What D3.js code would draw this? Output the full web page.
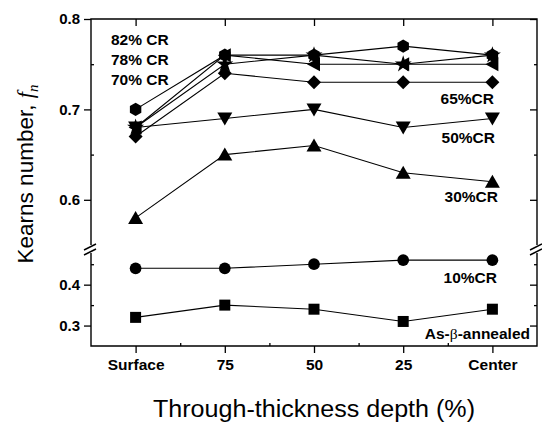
<!DOCTYPE html>
<html>
<head>
<meta charset="utf-8">
<script src="https://cdn.jsdelivr.net/npm/d3@7"></script>
<style>
  body { margin: 0; background: #fff; }
  text { font-family: "Liberation Sans", Arial, Helvetica, sans-serif; }
</style>
</head>
<body>
<svg id="chart" width="542" height="424"></svg>
<script>
// Kearns number f_n versus through-thickness depth for each cold-rolling reduction
const depths = ["Surface", "75", "50", "25", "Center"];
const cr82 = [0.70, 0.76, 0.76, 0.77, 0.76];
const cr78 = [0.68, 0.75, 0.76, 0.75, 0.76];
const cr70 = [0.68, 0.76, 0.75, 0.75, 0.75];
const cr65 = [0.67, 0.74, 0.73, 0.73, 0.73];
const cr50 = [0.68, 0.69, 0.70, 0.68, 0.69];
const cr30 = [0.58, 0.65, 0.66, 0.63, 0.62];
const cr10 = [0.44, 0.44, 0.45, 0.46, 0.46];
const annealed = [0.32, 0.35, 0.34, 0.31, 0.34];
const upperTicks = [0.6, 0.7, 0.8];
const upperMinor = [0.65, 0.75];
const lowerTicks = [0.3, 0.4];
const lowerMinor = [0.35, 0.45];

const svg = d3.select("#chart");
const plotLeft = 91, plotRight = 537, plotTop = 19, plotBottom = 346;
const breakTop = 245, breakBottom = 253;

const x = d3.scaleLinear().domain([-0.5, depths.length - 0.5]).range([plotLeft, plotRight]);
// Broken value axis: an upper band for the heavily rolled states and a lower band
const yTop = d3.scaleLinear().domain([0.55, 0.8]).range([245, plotTop]);
const yBot = d3.scaleLinear().domain([0.25, 0.475]).range([plotBottom, 254]);

// marker shapes
function poly(pts) { return "M" + pts.map(p => p.join(",")).join("L") + "Z"; }
const shapes = {
  hexagon: () => poly(d3.range(6).map(k => {
    const a = Math.PI / 2 + k * Math.PI / 3;
    return [6.6 * Math.cos(a), 6.6 * Math.sin(a)];
  })),
  star: () => d3.symbol(d3.symbolStar, 90)(),
  left: () => poly([[-7, 0], [6, -7], [6, 7]]),
  diamond: () => poly([[0, -7], [7, 0], [0, 7], [-7, 0]]),
  down: () => poly([[-7.5, -6], [7.5, -6], [0, 7]]),
  up: () => poly([[-7.5, 6], [7.5, 6], [0, -7]]),
  circle: () => d3.symbol(d3.symbolCircle, 108)(),
  square: () => poly([[-5.5, -5.5], [5.5, -5.5], [5.5, 5.5], [-5.5, 5.5]])
};

const series = [
  { values: annealed, shape: "square", y: yBot },
  { values: cr10, shape: "circle", y: yBot },
  { values: cr30, shape: "up", y: yTop },
  { values: cr50, shape: "down", y: yTop },
  { values: cr65, shape: "diamond", y: yTop },
  { values: cr70, shape: "left", y: yTop },
  { values: cr78, shape: "star", y: yTop },
  { values: cr82, shape: "hexagon", y: yTop }
];

const plot = svg.append("g");
series.forEach(s => {
  const line = d3.line().x((d, i) => x(i)).y(d => s.y(d));
  plot.append("path")
    .attr("d", line(s.values))
    .attr("fill", "none")
    .attr("stroke", "#000")
    .attr("stroke-width", 1.1);
});
series.forEach(s => {
  plot.selectAll(null)
    .data(s.values)
    .join("path")
    .attr("transform", (d, i) => `translate(${x(i)},${s.y(d)})`)
    .attr("d", shapes[s.shape]())
    .attr("fill", "#000");
});

// axes
const tickFont = g => g.selectAll("text")
  .attr("font-size", 15).attr("font-weight", "bold").attr("fill", "#000")
  .attr("font-family", '"Liberation Sans", Arial, sans-serif');
const clean = g => {
  g.select(".domain").remove();
  g.selectAll("line").attr("stroke", "#000").attr("stroke-width", 1.3);
};

// left
svg.append("g").attr("transform", `translate(${plotLeft},0)`)
  .call(d3.axisLeft(yTop).tickValues(upperTicks).tickSize(7).tickPadding(4).tickFormat(d3.format(".1f")))
  .call(clean).call(tickFont);
svg.append("g").attr("transform", `translate(${plotLeft},0)`)
  .call(d3.axisLeft(yTop).tickValues(upperMinor).tickSize(-3).tickFormat(""))
  .call(clean);
svg.append("g").attr("transform", `translate(${plotLeft},0)`)
  .call(d3.axisLeft(yBot).tickValues(lowerTicks).tickSize(7).tickPadding(4).tickFormat(d3.format(".1f")))
  .call(clean).call(tickFont);
svg.append("g").attr("transform", `translate(${plotLeft},0)`)
  .call(d3.axisLeft(yBot).tickValues(lowerMinor).tickSize(-3).tickFormat(""))
  .call(clean);

// right
[[yTop, upperTicks, 7], [yTop, upperMinor, 3], [yBot, lowerTicks, 7], [yBot, lowerMinor, 3]].forEach(([sc, tv, len]) => {
  svg.append("g").attr("transform", `translate(${plotRight},0)`)
    .call(d3.axisRight(sc).tickValues(tv).tickSize(-len).tickFormat(""))
    .call(clean);
});

// bottom
svg.append("g").attr("transform", `translate(0,${plotBottom})`)
  .call(d3.axisBottom(x).tickValues(d3.range(depths.length)).tickSize(7).tickPadding(6).tickFormat(i => depths[i]))
  .call(clean)
  .call(g => g.selectAll("text").attr("font-size", 15.5).attr("font-weight", "bold").attr("fill", "#000")
    .attr("font-family", '"Liberation Sans", Arial, sans-serif'));
svg.append("g").attr("transform", `translate(0,${plotBottom})`)
  .call(d3.axisBottom(x).tickValues(d3.range(depths.length - 1).map(i => i + 0.5)).tickSize(-3).tickFormat(""))
  .call(clean);

// top
svg.append("g").attr("transform", `translate(0,${plotTop})`)
  .call(d3.axisTop(x).tickValues(d3.range(depths.length)).tickSize(-7).tickFormat(""))
  .call(clean);

// frame with the break in both vertical sides
const frame = svg.append("g").attr("stroke", "#000").attr("stroke-width", 1.4).attr("fill", "none");
frame.append("path").attr("d", `M${plotLeft},${breakTop}V${plotTop}H${plotRight}V${breakTop}`);
frame.append("path").attr("d", `M${plotLeft},${breakBottom}V${plotBottom}H${plotRight}V${breakBottom}`);
[plotLeft, plotRight].forEach(ax => {
  const yb = 249;
  frame.append("line").attr("x1", ax - 7).attr("y1", yb + 1).attr("x2", ax + 5).attr("y2", yb - 5);
  frame.append("line").attr("x1", ax - 7).attr("y1", yb + 6).attr("x2", ax + 5).attr("y2", yb);
});

// series labels
const labels = [
  { text: "82% CR", x: 111, y: 45, anchor: "start" },
  { text: "78% CR", x: 111, y: 65, anchor: "start" },
  { text: "70% CR", x: 111, y: 85, anchor: "start" },
  { text: "65%CR", x: 494, y: 104, anchor: "end" },
  { text: "50%CR", x: 495, y: 143, anchor: "end" },
  { text: "30%CR", x: 498, y: 202, anchor: "end" },
  { text: "10%CR", x: 497, y: 283, anchor: "end" }
];
svg.selectAll(null).data(labels).join("text")
  .attr("x", d => d.x).attr("y", d => d.y)
  .attr("text-anchor", d => d.anchor)
  .attr("font-size", 15.5).attr("font-weight", "bold")
  .text(d => d.text);

const ann = svg.append("text").attr("x", 530).attr("y", 339).attr("text-anchor", "end")
  .attr("font-size", 15.5).attr("font-weight", "bold");
ann.append("tspan").text("As-");
ann.append("tspan").attr("font-family", '"Liberation Serif", "DejaVu Serif", serif').attr("font-weight", "normal").text("β");
ann.append("tspan").text("-annealed");

// axis titles
svg.append("text").attr("x", 314).attr("y", 417).attr("text-anchor", "middle")
  .attr("font-size", 23).attr("textLength", 322).attr("lengthAdjust", "spacingAndGlyphs")
  .text("Through-thickness depth (%)");

const yt = svg.append("text").attr("transform", "translate(33,174) rotate(-90)")
  .attr("text-anchor", "middle").attr("font-size", 22.5);
yt.append("tspan").text("Kearns number, ");
yt.append("tspan").attr("font-family", '"Liberation Serif", "Times New Roman", serif').attr("font-style", "italic").text("f");
yt.append("tspan").attr("font-family", '"Liberation Serif", "Times New Roman", serif').attr("font-style", "italic")
  .attr("font-size", 15).attr("dy", 5).text("n");
</script>
</body>
</html>
